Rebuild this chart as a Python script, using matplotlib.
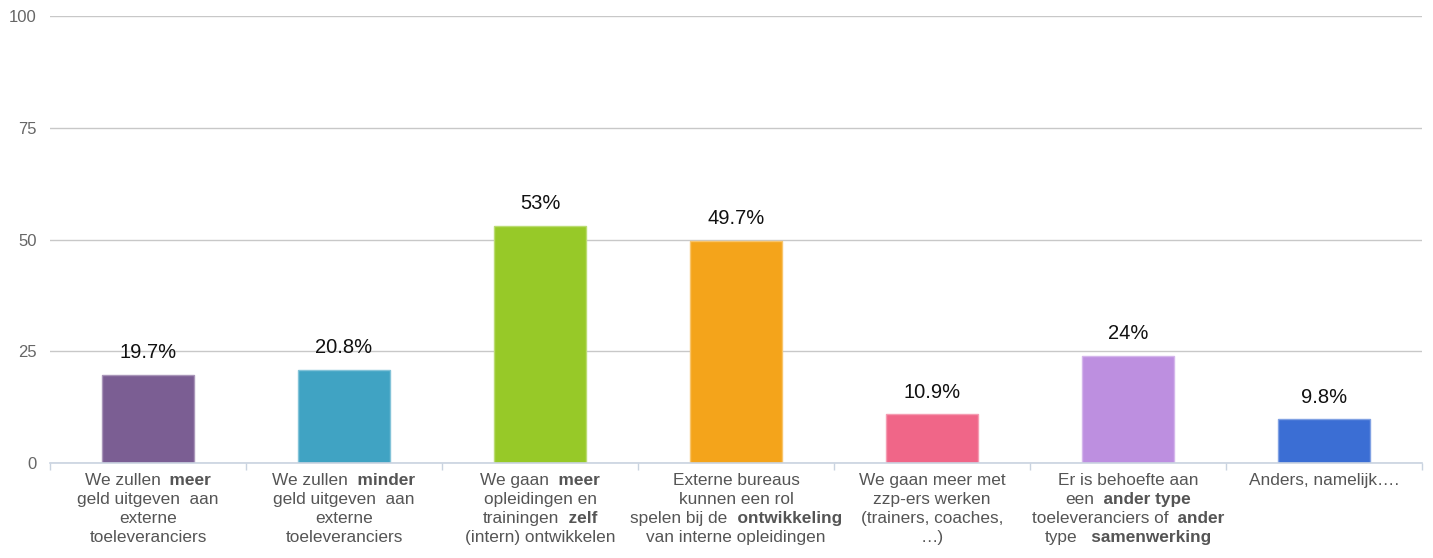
import matplotlib
matplotlib.use("Agg")
import matplotlib.pyplot as plt
from matplotlib.offsetbox import TextArea, HPacker, VPacker, AnnotationBbox
from matplotlib.colors import to_rgb
import re

labels = [
    "We zullen  **meer**\ngeld uitgeven  aan\nexterne\ntoeleveranciers",
    "We zullen  **minder**\ngeld uitgeven  aan\nexterne\ntoeleveranciers",
    "We gaan  **meer**\nopleidingen en\ntrainingen  **zelf**\n(intern) ontwikkelen",
    "Externe bureaus\nkunnen een rol\nspelen bij de  **ontwikkeling**\nvan interne opleidingen",
    "We gaan meer met\nzzp-ers werken\n(trainers, coaches,\n\u2026)",
    "Er is behoefte aan\neen  **ander type**\ntoeleveranciers of  **ander**\ntype   **samenwerking**",
    "Anders, namelijk\u2026.",
]
values = [19.7, 20.8, 53, 49.7, 10.9, 24, 9.8]
colors = ["#7B5E93", "#40A3C3", "#97C928", "#F4A41B", "#F06688", "#BD8FE0", "#3B6ED4"]
yticks = [0, 25, 50, 75, 100]

plt.rcParams["font.family"] = ["Liberation Sans", "DejaVu Sans"]

W, H = 1433, 558
fig = plt.figure(figsize=(W / 100, H / 100), dpi=100)
ax = fig.add_axes([50 / W, 95 / H, (1422 - 50) / W, (463 - 16) / H])

x = list(range(len(values)))

def lighten(c, f=0.35):
    r, g, b = to_rgb(c)
    return (r + (1 - r) * f, g + (1 - g) * f, b + (1 - b) * f)

ax.bar(x, values, width=0.47, color=colors,
       edgecolor=[lighten(c) for c in colors], linewidth=1, zorder=3)

for xi, v in zip(x, values):
    ax.annotate(f"{v:g}%", (xi, v), xytext=(0, 12), textcoords="offset points",
                ha="center", va="baseline", fontsize=14.5, color="#111111", zorder=4)

ax.set_xlim(-0.5, len(values) - 0.5)
ax.set_ylim(0, 100)
ax.set_yticks(yticks)
ax.tick_params(axis="y", length=0, pad=9.5, labelsize=12, labelcolor="#666666")
ax.yaxis.grid(True, color="#C8C8C8", linewidth=1, zorder=0)
ax.set_axisbelow(True)

ax.set_xticks([i - 0.5 for i in range(len(values) + 1)])
ax.set_xticklabels([])
ax.tick_params(axis="x", length=5, width=1, color="#C9D3E0")

for s in ["top", "right", "left"]:
    ax.spines[s].set_visible(False)
ax.spines["bottom"].set_color("#C9D3E0")
ax.spines["bottom"].set_linewidth(1.2)
ax.spines["bottom"].set_zorder(5)

def make_box(text):
    rows = []
    for line in text.split("\n"):
        parts = re.split(r"(\*\*.*?\*\*)", line)
        segs = []
        pending = ""
        for p in parts:
            if not p:
                continue
            bold = p.startswith("**")
            t = p.strip("*") if bold else p
            if not bold:
                stripped = t.rstrip(" ")
                trail = t[len(stripped):]
                t = stripped
            if bold:
                t = pending + t
                pending = ""
            if t:
                segs.append(TextArea(t, textprops=dict(fontsize=12.4, color="#555555",
                                                       fontweight="bold" if bold else "normal")))
            if not bold:
                pending = trail
        rows.append(HPacker(children=segs, align="baseline", pad=0, sep=0))
    return VPacker(children=rows, align="center", pad=0, sep=3)

for xi, lab in zip(x, labels):
    box = make_box(lab)
    ab = AnnotationBbox(box, (xi, 0), xycoords=("data", "axes fraction"),
                        xybox=(0, -7), boxcoords="offset points",
                        box_alignment=(0.5, 1), frameon=False, pad=0)
    ax.add_artist(ab)

fig.savefig("out.png", dpi=100)
